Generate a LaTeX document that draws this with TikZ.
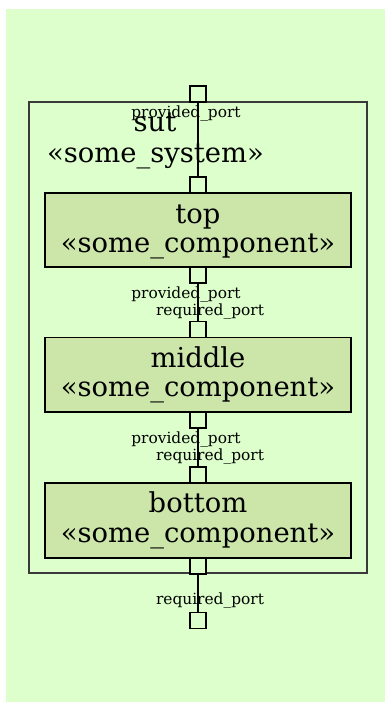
\documentclass[tikz,border=0pt]{standalone}
\usepackage{fontspec}
\setmainfont{DejaVu Serif}
\definecolor{bg}{HTML}{DDFFCC}
\definecolor{compfill}{HTML}{CCE6AA}
\definecolor{sutline}{HTML}{3A3A3A}
\tikzset{
  sutbox/.style={draw=sutline, line width=2bp, inner sep=0pt, minimum width=338bp, minimum height=471bp},
  compbox/.style={draw=black, fill=compfill, line width=1.8bp, inner sep=0pt, minimum width=306bp, minimum height=74.5bp},
  port/.style={draw=black, fill=bg, line width=1.8bp, inner sep=0pt, minimum size=16bp},
  conn/.style={draw=black, line width=1.8bp},
  big/.style={font=\fontsize{27.4bp}{29bp}\selectfont, inner sep=0pt, anchor=base},
  small/.style={font=\fontsize{15.4bp}{17bp}\selectfont, inner sep=0pt, anchor=base}
}
\begin{document}
\begin{tikzpicture}[x=1bp,y=-1bp]
\useasboundingbox (0,0) rectangle (385,702);
\fill[bg] (6,9) rectangle (385,702);
% system box
\node[sutbox] (sut) at (198,337.5) {};
\node[big] (sutname) at (155,132) {sut};
\node[big] (sutst) at (155.5,162) {«some\_system»};
% components
\node[compbox] (top) at (198,230) {};
\node[big] (topname) at (198,223) {top};
\node[big] (topst) at (198,252) {«some\_component»};
\node[compbox] (middle) at (198,374.75) {};
\node[big] (midname) at (198,367) {middle};
\node[big] (midst) at (198,396) {«some\_component»};
\node[compbox] (bottom) at (198,520.5) {};
\node[big] (botname) at (198,512.5) {bottom};
\node[big] (botst) at (198,542) {«some\_component»};
% ports
\node[port] (psuttop) at (198,94) {};
\node[port] (ptopin) at (198,184.75) {};
\node[port] (ptopout) at (198,275.25) {};
\node[port] (pmidin) at (198,329.5) {};
\node[port] (pmidout) at (198,420) {};
\node[port] (pbotin) at (198,475.25) {};
\node[port] (pbotout) at (198,565.75) {};
\node[port] (psutbot) at (198,620.5) {};
% port labels
\node[small] (l1) at (186,118) {provided\_port};
\node[small] (l2) at (186,298) {provided\_port};
\node[small] (l3) at (210,315) {required\_port};
\node[small] (l4) at (186,443) {provided\_port};
\node[small] (l5) at (210,460) {required\_port};
\node[small] (l6) at (210,604) {required\_port};
% connectors
\draw[conn] (psuttop) -- (ptopin);
\draw[conn] (ptopout) -- (pmidin);
\draw[conn] (pmidout) -- (pbotin);
\draw[conn] (pbotout) -- (psutbot);
\end{tikzpicture}
\end{document}
